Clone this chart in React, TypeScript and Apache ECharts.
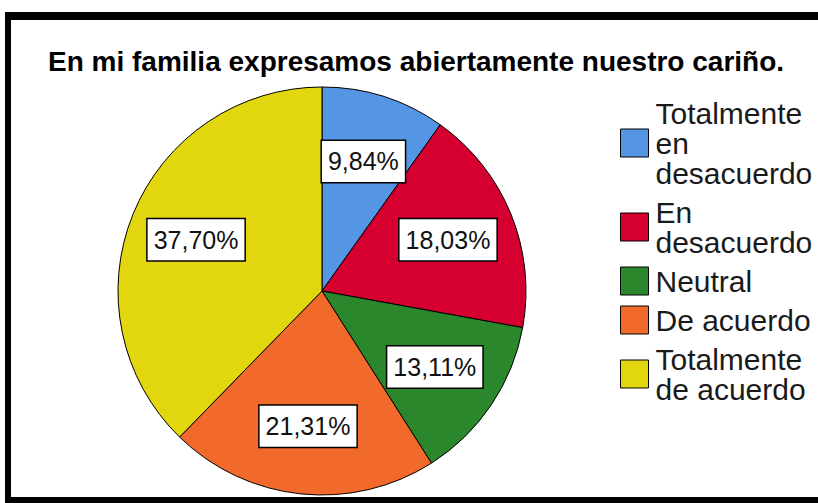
import React, { useEffect, useRef } from "react";
import * as echarts from "echarts";

const titleText = "En mi familia expresamos abiertamente nuestro cariño.";
const categories = [
  "Totalmente en desacuerdo",
  "En desacuerdo",
  "Neutral",
  "De acuerdo",
  "Totalmente de acuerdo",
];
const legendLabels = [
  "Totalmente\nen\ndesacuerdo",
  "En\ndesacuerdo",
  "Neutral",
  "De acuerdo",
  "Totalmente\nde acuerdo",
];
const percents = [9.84, 18.03, 13.11, 21.31, 37.7];
const colors = ["#5596e4", "#d5002f", "#2a872b", "#f2692c", "#e2d60f"];

const FONT = "'Liberation Sans', Arial, sans-serif";

export default function App() {
  const ref = useRef<HTMLDivElement>(null);
  useEffect(() => {
    if (!ref.current) return;
    const chart = echarts.init(ref.current, undefined, { renderer: "svg" });
    const data = categories.map((name, i) => ({
      name,
      value: percents[i],
      itemStyle: { color: colors[i] },
    }));
    const fmt = (p: any) => p.value.toFixed(2).replace(".", ",") + "%";
    chart.setOption({
      animation: false,
      backgroundColor: "#ffffff",
      title: {
        text: titleText,
        left: 48,
        top: 47,
        padding: 0,
        textStyle: {
          fontFamily: FONT,
          fontWeight: "bold",
          fontSize: 28,
          color: "#000",
        },
      },
      legend: {
        orient: "vertical",
        left: 620,
        top: 98,
        padding: 0,
        itemGap: 9,
        itemWidth: 28,
        itemHeight: 28,
        icon: "rect",
        selectedMode: false,
        itemStyle: { borderColor: "#000", borderWidth: 1 },
        data: categories,
        formatter: (name: string) => legendLabels[categories.indexOf(name)],
        textStyle: {
          fontFamily: FONT,
          fontSize: 30,
          lineHeight: 30,
          color: "#1a1a1a",
          padding: [0, 0, 0, 2],
        },
      },
      graphic: [
        { type: "rect", shape: { x: 5, y: 12, width: 813, height: 8 }, style: { fill: "#000" } },
        { type: "rect", shape: { x: 5, y: 12, width: 6, height: 491 }, style: { fill: "#000" } },
        { type: "rect", shape: { x: 5, y: 497, width: 813, height: 6 }, style: { fill: "#000" } },
      ],
      series: [
        {
          type: "pie",
          center: [322, 291],
          radius: [0, 204],
          startAngle: 90,
          clockwise: true,
          silent: true,
          data,
          label: { show: false },
          labelLine: { show: false },
          itemStyle: { borderColor: "#000", borderWidth: 1 },
        },
        {
          type: "pie",
          center: [322, 291],
          radius: [0, 266],
          startAngle: 90,
          clockwise: true,
          silent: true,
          legendHoverLink: false,
          data: categories.map((name, i) => ({ name, value: percents[i] })),
          itemStyle: { color: "rgba(0,0,0,0)", borderWidth: 0 },
          labelLine: { show: false },
          label: {
            show: true,
            position: "inside",
            formatter: fmt,
            fontFamily: FONT,
            fontSize: 25,
            color: "#111",
            backgroundColor: "#fff",
            borderColor: "#000",
            borderWidth: 1.5,
            padding: [9, 6, 7, 6],
          },
        },
      ],
    });
    return () => chart.dispose();
  }, []);
  return (
    <div
      ref={ref}
      style={{ position: "absolute", left: 0, top: 0, width: 818, height: 503 }}
    />
  );
}
